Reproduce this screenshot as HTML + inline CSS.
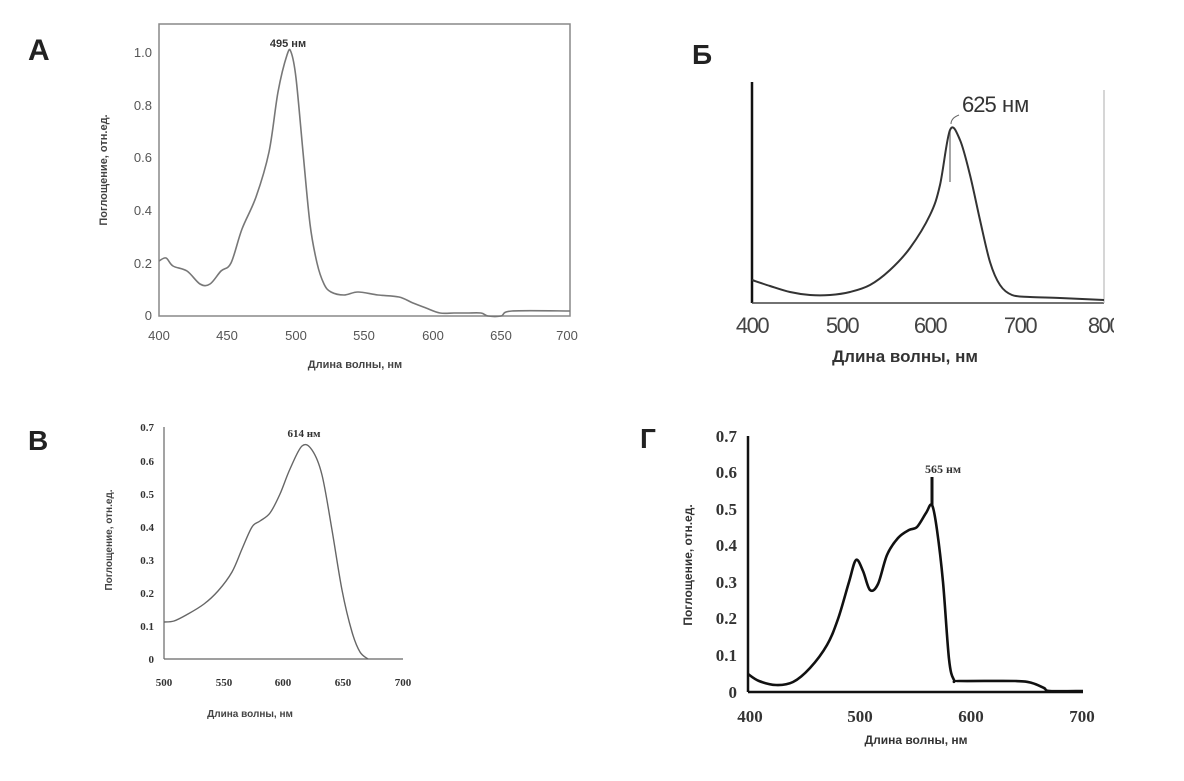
<!DOCTYPE html>
<html><head><meta charset="utf-8"><style>html,body{margin:0;padding:0;background:#fff}</style></head>
<body>
<svg id="s" width="1184" height="776" xmlns="http://www.w3.org/2000/svg" font-family="Liberation Sans, sans-serif">
<rect width="1184" height="776" fill="#fff"/>
<!-- Panel A -->
<text x="28" y="60" font-size="30" font-weight="bold" fill="#222">А</text>
<rect x="159" y="24" width="411" height="292" fill="none" stroke="#888" stroke-width="1.5"/>
<g font-size="13" fill="#555" text-anchor="end">
<text x="152" y="320">0</text><text x="152" y="268">0.2</text><text x="152" y="215">0.4</text>
<text x="152" y="162">0.6</text><text x="152" y="110">0.8</text><text x="152" y="57">1.0</text></g>
<g font-size="13" fill="#555" text-anchor="middle">
<text x="159" y="340">400</text><text x="227" y="340">450</text><text x="296" y="340">500</text>
<text x="364" y="340">550</text><text x="433" y="340">600</text><text x="501" y="340">650</text><text x="567" y="340">700</text></g>
<text x="355" y="368" font-size="11" font-weight="bold" fill="#444" text-anchor="middle">Длина волны, нм</text>
<text transform="translate(107,170) rotate(-90)" font-size="11" font-weight="bold" fill="#444" text-anchor="middle">Поглощение, отн.ед.</text>
<text x="288" y="47" font-size="11" font-weight="bold" fill="#333" text-anchor="middle">495 нм</text>
<path class="sm" data-p="159,261 166,258 173,266 187,271 200,284 210,284 221,271 231,263 242,229 256,197 269,152 278,92 287,55 291,52 296,78 303,152 310,224 317,263 324,284 331,292 344,295 358,292 378,295 399,297 413,303 426,308 440,313 454,313 467,313 481,313 488,316 501,316 512,311 570,311" fill="none" stroke="#777" stroke-width="1.6"/>
<!-- Panel Б -->
<text x="692" y="64" font-size="28" font-weight="bold" fill="#222">Б</text>
<line x1="752" y1="82" x2="752" y2="303" stroke="#111" stroke-width="2.5"/>
<line x1="752" y1="303" x2="1104" y2="303" stroke="#444" stroke-width="1.5"/>
<line x1="1104" y1="90" x2="1104" y2="303" stroke="#bbb" stroke-width="1.2"/>
<g font-size="22" fill="#444" text-anchor="middle" letter-spacing="-1.5">
<text x="752" y="333">400</text><text x="842" y="333">500</text><text x="930" y="333">600</text>
<text x="1020" y="333">700</text><text x="1104" y="333">800</text></g>
<rect x="1114" y="310" width="20" height="30" fill="#fff"/>
<text x="905" y="362" font-size="17" font-weight="bold" fill="#333" text-anchor="middle">Длина волны,  нм</text>
<text x="962" y="112" font-size="22" fill="#333" letter-spacing="-1">625</text><text x="1002" y="112" font-size="22" fill="#333">нм</text>
<path d="M951,124 q0,-6 8,-9" fill="none" stroke="#666" stroke-width="1"/>
<line x1="950" y1="130" x2="950" y2="182" stroke="#888" stroke-width="1.5"/>
<path class="sm" data-p="752,280 770,286 790,292 810,295 830,295 850,292 870,285 890,270 910,248 930,215 940,185 950,130 960,140 970,175 980,220 990,262 1000,285 1012,295 1030,297 1060,298 1104,300" fill="none" stroke="#333" stroke-width="2"/>
<!-- Panel В -->
<text x="28" y="450" font-size="28" font-weight="bold" fill="#222">В</text>
<line x1="164" y1="427" x2="164" y2="659" stroke="#666" stroke-width="1.2"/>
<line x1="164" y1="659" x2="403" y2="659" stroke="#666" stroke-width="1.2"/>
<g font-family="Liberation Serif, serif" font-size="11" font-weight="bold" fill="#333" text-anchor="end">
<text x="154" y="663">0</text><text x="154" y="630">0.1</text><text x="154" y="597">0.2</text><text x="154" y="564">0.3</text>
<text x="154" y="531">0.4</text><text x="154" y="498">0.5</text><text x="154" y="465">0.6</text><text x="154" y="431">0.7</text></g>
<g font-family="Liberation Serif, serif" font-size="11" font-weight="bold" fill="#333" text-anchor="middle">
<text x="164" y="686">500</text><text x="224" y="686">550</text><text x="283" y="686">600</text><text x="343" y="686">650</text><text x="403" y="686">700</text></g>
<text x="250" y="717" font-size="10" font-weight="bold" fill="#444" text-anchor="middle">Длина волны, нм</text>
<text transform="translate(112,540) rotate(-90)" font-size="10" font-weight="bold" fill="#444" text-anchor="middle">Поглощение, отн.ед.</text>
<text x="304" y="437" font-family="Liberation Serif, serif" font-size="11" font-weight="bold" fill="#333" text-anchor="middle">614 нм</text>
<path class="sm" data-p="164,622 174,621 188,614 204,604 218,591 232,572 242,549 252,527 260,521 270,513 280,494 290,469 302,446 312,450 322,475 332,530 342,590 352,632 360,652 368,659" fill="none" stroke="#666" stroke-width="1.4"/>
<!-- Panel Г -->
<text x="640" y="448" font-size="28" font-weight="bold" fill="#222">Г</text>
<line x1="748" y1="436" x2="748" y2="692" stroke="#111" stroke-width="2.5"/>
<line x1="748" y1="692" x2="1083" y2="692" stroke="#111" stroke-width="2.5"/>
<g font-family="Liberation Serif, serif" font-size="17" font-weight="bold" fill="#333" text-anchor="end">
<text x="737" y="698">0</text><text x="737" y="661">0.1</text><text x="737" y="624">0.2</text><text x="737" y="588">0.3</text>
<text x="737" y="551">0.4</text><text x="737" y="515">0.5</text><text x="737" y="478">0.6</text><text x="737" y="442">0.7</text></g>
<g font-family="Liberation Serif, serif" font-size="17" font-weight="bold" fill="#333" text-anchor="middle">
<text x="750" y="722">400</text><text x="860" y="722">500</text><text x="971" y="722">600</text><text x="1082" y="722">700</text></g>
<text x="916" y="744" font-size="12" font-weight="bold" fill="#333" text-anchor="middle">Длина волны, нм</text>
<text transform="translate(692,565) rotate(-90)" font-size="12" font-weight="bold" fill="#333" text-anchor="middle">Поглощение, отн.ед.</text>
<text x="943" y="473" font-family="Liberation Serif, serif" font-size="12" font-weight="bold" fill="#333" text-anchor="middle">565 нм</text>
<line x1="932" y1="477" x2="932" y2="505" stroke="#111" stroke-width="3"/>
<path class="sm" data-p="748,674 759,681 776,685 793,682 810,668 827,645 838,619 849,582 856,560 863,571 870,590 878,584 887,555 898,538 909,530 917,527 926,513 932,505 937,530 943,582 949,659 954,680 960,681 1015,681 1032,683 1044,688 1050,691 1083,691" fill="none" stroke="#111" stroke-width="2.6"/>
</svg>
<script>
document.querySelectorAll('path.sm').forEach(function(el){
  var p=el.getAttribute('data-p').trim().split(/\s+/).map(function(s){return s.split(',').map(Number);});
  var d='M'+p[0][0]+','+p[0][1];
  for(var i=0;i<p.length-1;i++){
    var p0=p[i-1]||p[i],p1=p[i],p2=p[i+1],p3=p[i+2]||p2;
    var c1x=p1[0]+(p2[0]-p0[0])/6,c1y=p1[1]+(p2[1]-p0[1])/6;
    var c2x=p2[0]-(p3[0]-p1[0])/6,c2y=p2[1]-(p3[1]-p1[1])/6;
    d+=' C'+c1x.toFixed(1)+','+c1y.toFixed(1)+' '+c2x.toFixed(1)+','+c2y.toFixed(1)+' '+p2[0]+','+p2[1];
  }
  el.setAttribute('d',d);
});
</script>
</body></html>
